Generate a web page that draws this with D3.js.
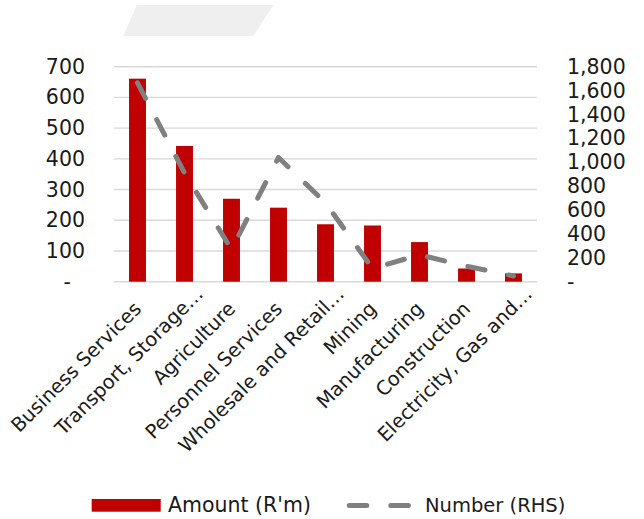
<!DOCTYPE html>
<html>
<head>
<meta charset="utf-8">
<script src="https://cdn.jsdelivr.net/npm/d3@7"></script>
<style>
  html, body { margin: 0; padding: 0; background: #fff; }
  svg { display: block; font-family: "DejaVu Sans", sans-serif; }
</style>
</head>
<body>
<svg id="chart" width="644" height="519"></svg>
<script>
// Sector breakdown: amount (left axis, R'm) and number of deals (right axis)
const categories = [
  "Business Services",
  "Transport, Storage…",
  "Agriculture",
  "Personnel Services",
  "Wholesale and Retail…",
  "Mining",
  "Manufacturing",
  "Construction",
  "Electricity, Gas and…"
];
const amounts = [661, 442, 270, 241, 187, 183, 129, 43, 27];
const numbers = [1665, 910, 270, 1040, 660, 110, 225, 130, 48];

const leftTicks = [0, 100, 200, 300, 400, 500, 600, 700];
const rightTicks = [0, 200, 400, 600, 800, 1000, 1200, 1400, 1600, 1800];

const barColor = "#C00000";
const lineColor = "#808080";
const gridColor = "#d9d9d9";

const svg = d3.select("#chart");
const plot = { left: 114, right: 537, top: 66.7, bottom: 281.7 };

// decorative title banner
svg.append("polygon")
  .attr("points", "136.7,5 273.3,5 253.3,36 123.3,36")
  .attr("fill", "#efefef");

const x = d3.scaleBand()
  .domain(categories)
  .range([plot.left, plot.right])
  .paddingInner(0.64)
  .paddingOuter(0.32);

const yL = d3.scaleLinear().domain([0, 700]).range([plot.bottom, plot.top]);
const yR = d3.scaleLinear().domain([0, 1800]).range([plot.bottom, plot.top]);

const fmt = d3.format(",");
const tickFmt = v => (v === 0 ? "-" : fmt(v));

// horizontal gridlines
svg.append("g")
  .selectAll("line")
  .data(leftTicks)
  .join("line")
  .attr("x1", plot.left)
  .attr("x2", plot.right)
  .attr("y1", d => yL(d))
  .attr("y2", d => yL(d))
  .attr("stroke", gridColor)
  .attr("stroke-width", 1.4);

// left axis
const gL = svg.append("g")
  .attr("transform", `translate(${plot.left},0)`)
  .call(d3.axisLeft(yL).tickValues(leftTicks).tickFormat(tickFmt).tickSize(0).tickPadding(29));
gL.select(".domain").remove();
gL.selectAll("text")
  .attr("font-family", "DejaVu Sans, sans-serif")
  .attr("font-size", 20.5)
  .attr("fill", "#1a1a1a")
  .attr("dx", d => (d === 0 ? -14 : 0));

// right axis
const gR = svg.append("g")
  .attr("transform", `translate(${plot.right},0)`)
  .call(d3.axisRight(yR).tickValues(rightTicks).tickFormat(tickFmt).tickSize(0).tickPadding(30));
gR.select(".domain").remove();
gR.selectAll("text")
  .attr("font-family", "DejaVu Sans, sans-serif")
  .attr("font-size", 20.5)
  .attr("fill", "#1a1a1a");

// bars
svg.append("g")
  .selectAll("rect")
  .data(categories.map((c, i) => ({ c, v: amounts[i] })))
  .join("rect")
  .attr("x", d => x(d.c))
  .attr("width", x.bandwidth())
  .attr("y", d => yL(d.v))
  .attr("height", d => yL(0) - yL(d.v))
  .attr("fill", barColor);

// dashed line on the right-hand scale
const line = d3.line()
  .x(d => x(d.c) + x.bandwidth() / 2)
  .y(d => yR(d.v));

svg.append("path")
  .datum(categories.map((c, i) => ({ c, v: numbers[i] })))
  .attr("d", line)
  .attr("fill", "none")
  .attr("stroke", lineColor)
  .attr("stroke-width", 5)
  .attr("stroke-linecap", "round")
  .attr("stroke-linejoin", "round")
  .attr("stroke-dasharray", "17.5 24");

// rotated category labels
svg.append("g")
  .selectAll("text")
  .data(categories)
  .join("text")
  .attr("transform", d => `translate(${x(d) + x.bandwidth() / 2 + 5},310) rotate(-45)`)
  .attr("text-anchor", "end")
  .attr("dx", d => (d.endsWith("…") ? 21 : 0))
  .attr("font-size", 19.5)
  .attr("fill", "#1a1a1a")
  .text(d => d);

// legend
const legend = svg.append("g");
legend.append("rect")
  .attr("x", 91.7).attr("y", 499)
  .attr("width", 69).attr("height", 12.7)
  .attr("fill", barColor);
legend.append("text")
  .attr("x", 168).attr("y", 505)
  .attr("dominant-baseline", "central")
  .attr("font-size", 20.5)
  .attr("fill", "#1a1a1a")
  .text("Amount (R'm)");
legend.append("line")
  .attr("x1", 349.2).attr("x2", 409.2)
  .attr("y1", 505.5).attr("y2", 505.5)
  .attr("stroke", lineColor)
  .attr("stroke-width", 5)
  .attr("stroke-linecap", "round")
  .attr("stroke-dasharray", "17.6 24");
legend.append("text")
  .attr("x", 425).attr("y", 505)
  .attr("dominant-baseline", "central")
  .attr("font-size", 19.5)
  .attr("fill", "#1a1a1a")
  .text("Number (RHS)");
</script>
</body>
</html>
